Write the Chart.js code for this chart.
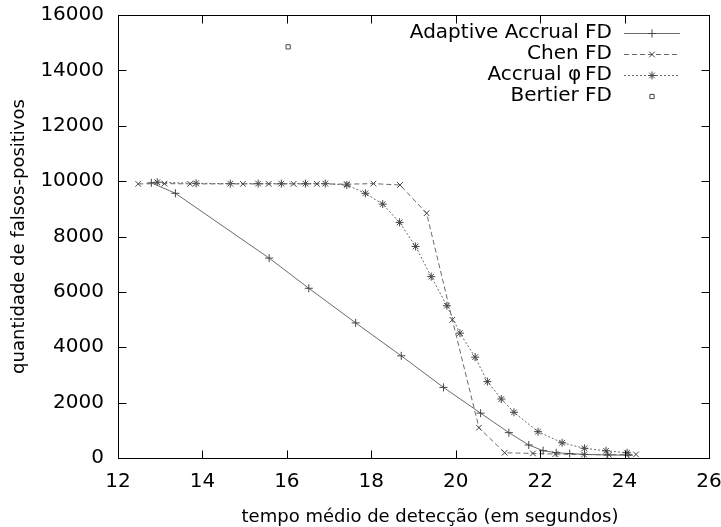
<!DOCTYPE html>
<html>
<head>
<meta charset="utf-8">
<script src="https://cdn.jsdelivr.net/npm/chart.js@4/dist/chart.umd.min.js"></script>
<style>
  html, body { margin: 0; padding: 0; background: #fff; }
  #wrap { width: 721px; height: 527px; }
</style>
</head>
<body>
<div id="wrap"><canvas id="myChart"></canvas></div>
<script>
// detection time (s) vs number of false positives
const adaptiveX = [12.79, 13.36, 15.58, 16.52, 17.63, 18.71, 19.71, 20.59, 21.26, 21.73, 22.07, 22.38, 22.70, 23.05, 23.60, 24.10];
const adaptiveY = [9940, 9560, 7220, 6130, 4880, 3690, 2550, 1620, 915, 470, 265, 190, 160, 130, 110, 100];

const chenX = [12.48, 13.10, 13.71, 14.96, 15.57, 16.16, 16.71, 17.42, 18.05, 18.68, 19.31, 19.92, 20.55, 21.16, 21.83, 22.36, 23.04, 23.63, 24.27];
const chenY = [9900, 9910, 9900, 9900, 9900, 9900, 9900, 9890, 9910, 9860, 8840, 4990, 1095, 190, 165, 140, 125, 115, 130];

const accrualX = [12.93, 13.85, 14.66, 15.32, 15.87, 16.44, 16.91, 17.42, 17.86, 18.27, 18.67, 19.05, 19.42, 19.79, 20.10, 20.46, 20.75, 21.08, 21.38, 21.95, 22.52, 23.05, 23.56, 24.06];
const accrualY = [9960, 9920, 9910, 9910, 9910, 9910, 9910, 9860, 9560, 9170, 8510, 7640, 6550, 5500, 4510, 3640, 2760, 2130, 1650, 950, 550, 350, 260, 190];

const bertierX = [16.03];
const bertierY = [14850];

const seriesNames = ["Adaptive Accrual FD", "Chen FD", "Accrual φ\u2009FD", "Bertier FD"];
const xTitle = "tempo médio de detecção (em segundos)";
const yTitle = "quantidade de falsos-positivos";

function toPoints(xs, ys) {
  return xs.map((x, i) => ({ x: x, y: ys[i] }));
}

const FONT = "'DejaVu Sans', sans-serif";
const lineColor = "#6a6a6a";
const markColor = "#444";

const datasets = [
  {
    label: seriesNames[0],
    data: toPoints(adaptiveX, adaptiveY),
    showLine: true,
    borderColor: lineColor,
    borderWidth: 1,
    pointStyle: "cross",
    pointRadius: 4,
    pointBorderColor: markColor,
    pointBorderWidth: 1,
  },
  {
    label: seriesNames[1],
    data: toPoints(chenX, chenY),
    showLine: true,
    borderColor: lineColor,
    borderWidth: 1,
    borderDash: [5, 3],
    pointStyle: "crossRot",
    pointRadius: 4,
    pointBorderColor: markColor,
    pointBorderWidth: 1,
  },
  {
    label: seriesNames[2],
    data: toPoints(accrualX, accrualY),
    showLine: true,
    borderColor: lineColor,
    borderWidth: 1,
    borderDash: [2, 2],
    pointStyle: "star",
    pointRadius: 4,
    pointBorderColor: markColor,
    pointBorderWidth: 1,
  },
  {
    label: seriesNames[3],
    data: toPoints(bertierX, bertierY),
    showLine: false,
    pointStyle: "rect",
    pointRadius: 3,
    pointBorderColor: markColor,
    pointBackgroundColor: "rgba(0,0,0,0)",
    pointBorderWidth: 1,
  },
];

// box around the plot with inward ticks on every side, the x title and the key
const frame = {
  id: "frame",
  afterDatasetsDraw(chart) {
    const ctx = chart.ctx;
    const sx = chart.scales.x, sy = chart.scales.y;
    const L = Math.round(sx.getPixelForValue(sx.min)) + 0.5;
    const R = Math.round(sx.getPixelForValue(sx.max)) + 0.5;
    const T = Math.round(sy.getPixelForValue(sy.max)) + 0.5;
    const B = Math.round(sy.getPixelForValue(sy.min)) + 0.5;
    const tl = 8;
    ctx.save();
    ctx.strokeStyle = "#000";
    ctx.lineWidth = 1;
    ctx.strokeRect(L, T, R - L, B - T);
    ctx.beginPath();
    sx.ticks.forEach(t => {
      const px = Math.round(sx.getPixelForValue(t.value)) + 0.5;
      ctx.moveTo(px, B); ctx.lineTo(px, B - tl);
      ctx.moveTo(px, T); ctx.lineTo(px, T + tl);
    });
    sy.ticks.forEach(t => {
      const py = Math.round(sy.getPixelForValue(t.value)) + 0.5;
      ctx.moveTo(L, py); ctx.lineTo(L + tl, py);
      ctx.moveTo(R, py); ctx.lineTo(R - tl, py);
    });
    ctx.stroke();

    // x axis title, sitting a little right of the plot centre
    ctx.fillStyle = "#000";
    ctx.font = "18px " + FONT;
    ctx.textAlign = "center";
    ctx.textBaseline = "middle";
    ctx.fillText(xTitle, (L + R) / 2 + 16, 517);

    // key, top right
    ctx.font = "20px " + FONT;
    ctx.textAlign = "right";
    const textRight = 612, x0 = 624, x1 = 680, rowY = 33, rowH = 21;
    chart.data.datasets.forEach((ds, i) => {
      const y = rowY + i * rowH;
      ctx.fillStyle = "#000";
      ctx.fillText(ds.label, textRight, y);
      if (ds.showLine) {
        ctx.save();
        ctx.strokeStyle = ds.borderColor;
        ctx.lineWidth = 1;
        ctx.setLineDash(ds.borderDash || []);
        ctx.beginPath();
        ctx.moveTo(x0, y + 0.5); ctx.lineTo(x1, y + 0.5);
        ctx.stroke();
        ctx.restore();
      }
      ctx.strokeStyle = markColor;
      ctx.fillStyle = "rgba(0,0,0,0)";
      ctx.lineWidth = 1;
      Chart.helpers.drawPoint(ctx, {
        pointStyle: ds.pointStyle,
        radius: ds.pointRadius,
        rotation: 0,
        borderWidth: 1,
      }, (x0 + x1) / 2, y + 0.5);
    });
    ctx.restore();
  }
};

const config = {
  type: "scatter",
  data: { datasets: datasets },
  options: {
    responsive: true,
    maintainAspectRatio: false,
    animation: false,
    layout: { padding: { top: 15, right: 12, left: 0, bottom: 0 } },
    plugins: { legend: { display: false }, tooltip: { enabled: false } },
    scales: {
      x: {
        type: "linear",
        min: 12,
        max: 26,
        grid: { display: false },
        border: { display: false },
        ticks: { stepSize: 2, color: "#000", font: { family: FONT, size: 20 }, padding: 4 },
        afterFit(s) {
          s.height = 69;
          s.paddingLeft = 0;
          s.paddingRight = 0;
        },
      },
      y: {
        type: "linear",
        min: 0,
        max: 16000,
        grid: { display: false },
        border: { display: false },
        ticks: {
          stepSize: 2000,
          color: "#000",
          font: { family: FONT, size: 20 },
          padding: 6,
          callback: v => String(v),
        },
        title: {
          display: true,
          text: yTitle,
          color: "#000",
          font: { family: FONT, size: 18 },
          padding: { top: 9, bottom: 0 },
        },
        afterFit(s) {
          s.width = 118;
          s.paddingTop = 0;
          s.paddingBottom = 0;
        },
      },
    },
  },
  plugins: [frame],
};

const context = document.getElementById("myChart").getContext("2d");
const chart = new Chart(context, config);
</script>
</body>
</html>
